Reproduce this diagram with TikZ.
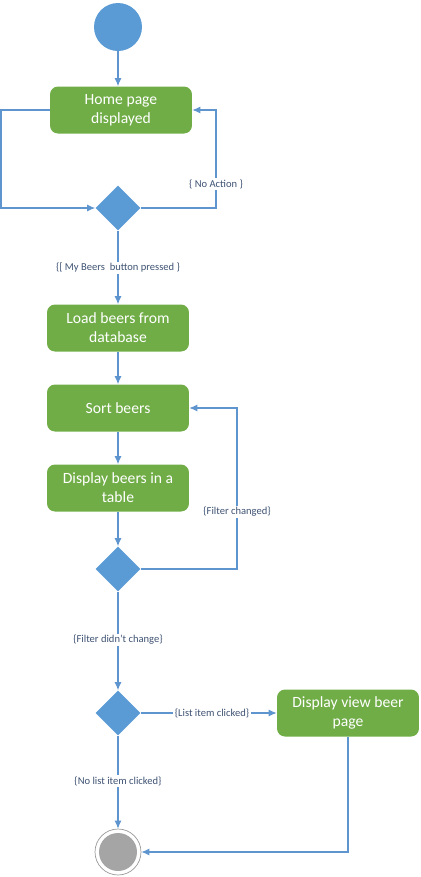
\documentclass[tikz,border=0pt]{standalone}
\usepackage{fontspec}
\setmainfont{Carlito}
\usetikzlibrary{arrows.meta,shapes.geometric}
\definecolor{ActGreen}{HTML}{70AD47}
\definecolor{DecBlue}{HTML}{5B9BD5}
\definecolor{Flow}{HTML}{5F95CE}
\definecolor{Guard}{HTML}{3F5373}
\definecolor{EndGray}{HTML}{A5A5A5}
\definecolor{EndRing}{HTML}{9A9A9A}

\tikzset{
  action/.style={fill=ActGreen,text=white,rounded corners=0.16cm,minimum width=2.84cm,minimum height=0.94cm,align=center,font=\fontsize{8.9pt}{10.8pt}\selectfont},
  decision/.style={diamond,fill=DecBlue,minimum size=0.9cm,inner sep=0pt},
  guard/.style={fill=white,text=Guard,inner sep=0.8pt,font=\fontsize{6pt}{7pt}\selectfont},
  flow/.style={draw=Flow,line width=0.6pt,-{Latex[length=0.16cm,width=0.14cm]}}
}

\begin{document}
\begin{tikzpicture}[x=0.02cm,y=-0.02cm]
  \useasboundingbox (0,0) rectangle (421,877);
  % start and end
  \node[circle,fill=DecBlue,minimum size=0.96cm,inner sep=0pt] (start) at (118,27) {};
  \node[circle,draw=EndRing,line width=0.4pt,minimum size=0.92cm,inner sep=0pt,
        path picture={\fill[EndGray] (path picture bounding box.center) circle (0.38cm);}] (end) at (118,852) {};
  % actions
  \node[action] (home) at (121,110) {Home page\\displayed};
  \node[action] (load) at (118,328) {Load beers from\\database};
  \node[action] (sort) at (118,408) {Sort beers};
  \node[action] (disp) at (118,488) {Display beers in a\\table};
  \node[action] (view) at (348,713) {Display view beer\\page};
  % decisions
  \node[decision] (d1) at (118,208) {};
  \node[decision] (d2) at (118,569) {};
  \node[decision] (d3) at (118,713) {};
  % loop corners
  \coordinate (homeloop) at (1,208);
  \coordinate (noaction) at (216,110);
  \coordinate (filterloop) at (237,408);

  \draw[flow] (start) -- (start |- home.north);
  \draw[flow] (home.west) -| (homeloop) -- (d1.west);
  \draw[flow] (d1.east) -| (noaction) -- (home.east);
  \draw[flow] (d1) -- (load);
  \draw[flow] (load) -- (sort);
  \draw[flow] (sort) -- (disp);
  \draw[flow] (disp) -- (d2);
  \draw[flow] (d2.east) -| (filterloop) -- (sort.east);
  \draw[flow] (d2) -- (d3);
  \draw[flow] (d3) -- (view);
  \draw[flow] (d3) -- (end);
  \draw[flow] (view.south) |- (end.east);

  % guards
  \node[guard] (gnoact) at (216,184) {\{ No Action \}};
  \node[guard] (gbeers) at (118,268) {\{[ My Beers\ \ button pressed \}};
  \node[guard] (gchanged) at (237,512) {\{Filter changed\}};
  \node[guard] (gsame) at (118,640) {\{Filter didn't change\}};
  \node[guard] (gclick) at (212,713) {\{List item clicked\}};
  \node[guard] (gnoclick) at (118,781) {\{No list item clicked\}};
\end{tikzpicture}
\end{document}
